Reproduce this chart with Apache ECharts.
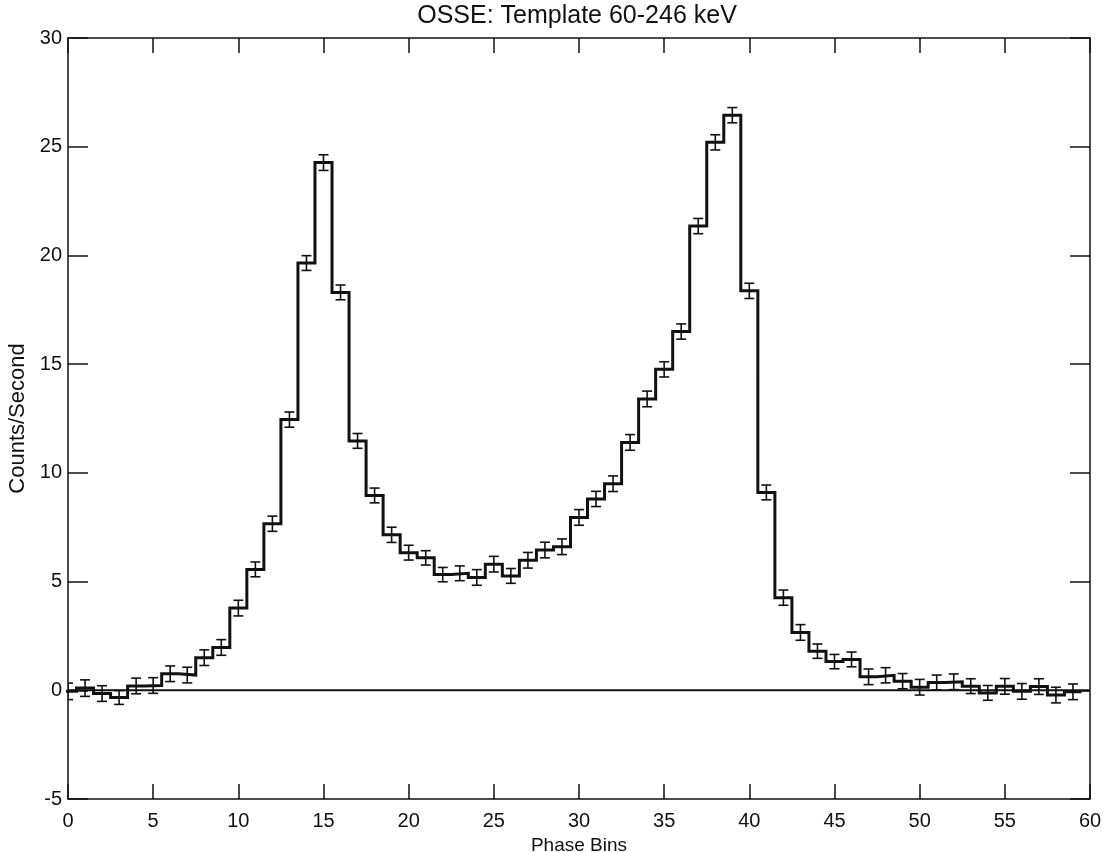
<!DOCTYPE html>
<html>
<head>
<meta charset="utf-8">
<script src="https://cdn.jsdelivr.net/npm/echarts@6/dist/echarts.min.js"></script>
<style>
html,body{margin:0;padding:0;background:#fff;}
#chart{width:1106px;height:852px;}
</style>
</head>
<body>
<div id="chart"></div>
<script>
// Phase bin centres
const bins = [0,1,2,3,4,5,6,7,8,9,10,11,12,13,14,15,16,17,18,19,20,21,22,23,24,25,26,27,28,29,
              30,31,32,33,34,35,36,37,38,39,40,41,42,43,44,45,46,47,48,49,50,51,52,53,54,55,56,57,58,59];
// Counts/Second per bin
const counts = [-0.05,0.10,-0.15,-0.33,0.20,0.22,0.76,0.70,1.50,1.97,
                3.78,5.56,7.66,12.45,19.65,24.27,18.30,11.47,8.96,7.15,
                6.33,6.09,5.32,5.38,5.19,5.80,5.26,5.98,6.45,6.60,
                7.95,8.80,9.50,11.40,13.40,14.76,16.50,21.35,25.20,26.45,
                18.37,9.10,4.26,2.66,1.80,1.32,1.42,0.62,0.69,0.42,
                0.14,0.36,0.39,0.19,-0.12,0.18,-0.05,0.17,-0.22,-0.07];
// 1-sigma errors per bin
const errors = [0.38,0.38,0.36,0.32,0.36,0.36,0.36,0.36,0.36,0.36,
                0.36,0.34,0.35,0.35,0.34,0.36,0.34,0.34,0.34,0.35,
                0.34,0.33,0.33,0.34,0.36,0.36,0.34,0.36,0.36,0.36,
                0.36,0.35,0.36,0.36,0.36,0.35,0.35,0.35,0.35,0.35,
                0.35,0.34,0.35,0.36,0.33,0.33,0.34,0.36,0.35,0.35,
                0.36,0.34,0.36,0.34,0.34,0.36,0.36,0.36,0.36,0.36];
const xTicks = [0,5,10,15,20,25,30,35,40,45,50,55,60];
const yTicks = [-5,0,5,10,15,20,25,30];
const titleText = 'OSSE: Template 60-246 keV';
const xName = 'Phase Bins';
const yName = 'Counts/Second';

const stepData = [];
for (let i = 0; i < bins.length; i++) {
  stepData.push([bins[i] - 0.5, counts[i]]);
  stepData.push([bins[i] + 0.5, counts[i]]);
}
const errData = bins.map((b, i) => [b, counts[i], errors[i]]);

const FONT = 'Liberation Sans, Arial, sans-serif';
const INK = '#111';

const chart = echarts.init(document.getElementById('chart'), null, {renderer: 'canvas'});
chart.setOption({
  backgroundColor: '#fff',
  animation: false,
  title: {
    text: titleText, left: 572, top: -1, textAlign: 'center',
    textStyle: {fontFamily: FONT, fontSize: 25, fontWeight: 'normal', color: INK}
  },
  grid: {left: 68, right: 16, top: 38, bottom: 53, containLabel: false, outerBoundsMode: 'none'},
  xAxis: [{
    type: 'value', min: xTicks[0], max: xTicks[xTicks.length - 1], interval: 5,
    name: xName, nameLocation: 'middle', nameGap: 36,
    nameTextStyle: {fontFamily: FONT, fontSize: 19, color: INK},
    axisLine: {show: true, onZero: false, lineStyle: {color: INK, width: 1.5}},
    axisTick: {show: true, inside: true, length: 15, lineStyle: {color: INK, width: 1.5}},
    axisLabel: {show: true, margin: 12, fontFamily: FONT, fontSize: 20, color: INK,
                customValues: xTicks},
    splitLine: {show: false}
  }, {
    type: 'value', position: 'top', min: xTicks[0], max: xTicks[xTicks.length - 1], interval: 5,
    axisLine: {show: true, onZero: false, lineStyle: {color: INK, width: 1.5}},
    axisTick: {show: true, inside: true, length: 15, lineStyle: {color: INK, width: 1.5}},
    axisLabel: {show: false}, splitLine: {show: false}
  }],
  yAxis: [{
    type: 'value', min: yTicks[0], max: yTicks[yTicks.length - 1], interval: 5,
    name: yName, nameLocation: 'middle', nameGap: 38, nameRotate: 90,
    nameTextStyle: {fontFamily: FONT, fontSize: 22, color: INK},
    axisLine: {show: true, onZero: false, lineStyle: {color: INK, width: 1.5}},
    axisTick: {show: true, inside: true, length: 20, lineStyle: {color: INK, width: 1.5}},
    axisLabel: {show: true, margin: 6, fontFamily: FONT, fontSize: 20, color: INK},
    splitLine: {show: false}
  }, {
    type: 'value', position: 'right', min: yTicks[0], max: yTicks[yTicks.length - 1], interval: 5,
    axisLine: {show: true, onZero: false, lineStyle: {color: INK, width: 1.5}},
    axisTick: {show: true, inside: true, length: 20, lineStyle: {color: INK, width: 1.5}},
    axisLabel: {show: false}, splitLine: {show: false}
  }],
  series: [{
    name: 'zero', type: 'line', xAxisIndex: 0, yAxisIndex: 0,
    data: [[xTicks[0], 0], [xTicks[xTicks.length - 1], 0]],
    symbol: 'none', lineStyle: {color: INK, width: 2}, silent: true, z: 2
  }, {
    name: 'template', type: 'line', xAxisIndex: 0, yAxisIndex: 0,
    data: stepData, symbol: 'none', clip: true,
    lineStyle: {color: INK, width: 3, join: 'miter'}, z: 3
  }, {
    name: 'errors', type: 'custom', xAxisIndex: 0, yAxisIndex: 0,
    data: errData, clip: true, z: 4,
    renderItem: function (params, api) {
      const x = api.value(0), y = api.value(1), e = api.value(2);
      const top = api.coord([x, y + e]);
      const bot = api.coord([x, y - e]);
      const hw = 5;
      const style = {stroke: INK, lineWidth: 1.6};
      return {
        type: 'group',
        children: [
          {type: 'line', shape: {x1: top[0], y1: top[1], x2: bot[0], y2: bot[1]}, style: style},
          {type: 'line', shape: {x1: top[0] - hw, y1: top[1], x2: top[0] + hw, y2: top[1]}, style: style},
          {type: 'line', shape: {x1: bot[0] - hw, y1: bot[1], x2: bot[0] + hw, y2: bot[1]}, style: style}
        ]
      };
    }
  }]
});
</script>
</body>
</html>
